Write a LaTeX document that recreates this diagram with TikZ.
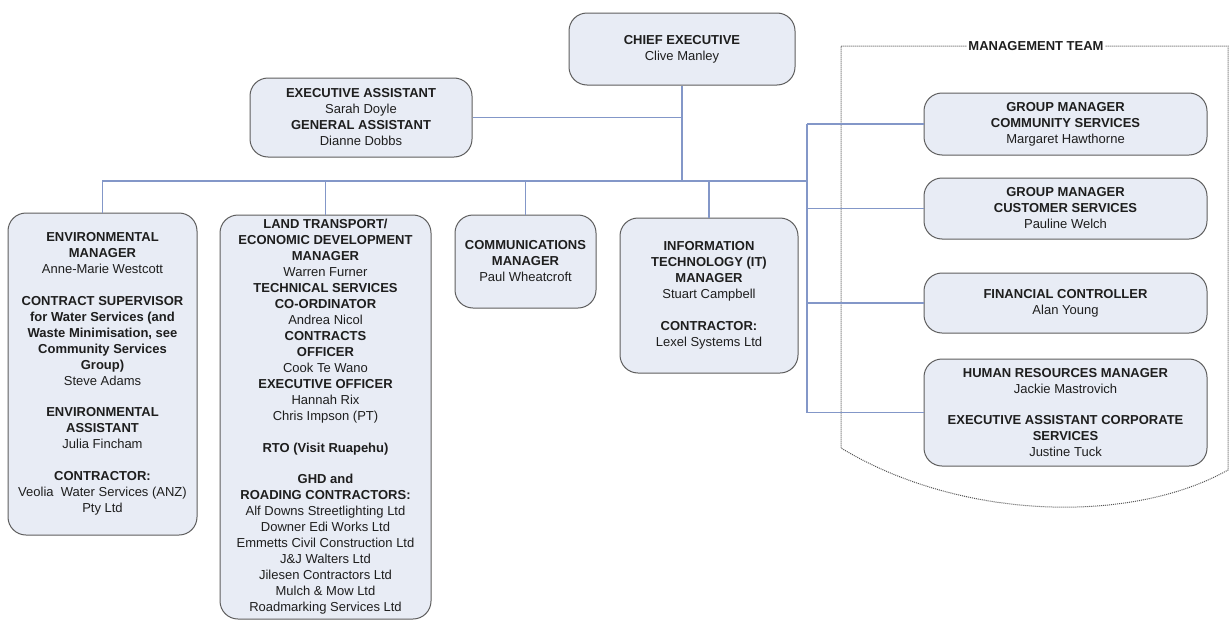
\documentclass[tikz,border=0pt]{standalone}
\usepackage{fontspec}
\setmainfont{Liberation Sans}
\definecolor{boxfill}{HTML}{E8ECF5}
\definecolor{boxline}{HTML}{5E5E5E}
\definecolor{connline}{HTML}{8397C8}
\definecolor{txt}{HTML}{1E1E1E}
\definecolor{dotline}{HTML}{555555}
\begin{document}
\begin{tikzpicture}[x=1pt,y=-1pt,
  orgbox/.style={draw=boxline, line width=1pt, fill=boxfill, rounded corners=18pt,
    inner sep=0pt, align=center, text=txt, font=\fontsize{13}{16}\selectfont},
  conn/.style={draw=connline, line width=1.4pt},
  mgmt/.style={draw=dotline, line width=1pt, densely dotted}]
\useasboundingbox (0,0) rectangle (1231,621);
\fill[white] (0,0) rectangle (1231,621);

% management team frame
\node[text=txt, font=\bfseries\fontsize{13}{16}\selectfont, inner sep=2pt] (mteam) at (1036,46) {MANAGEMENT TEAM};
\coordinate (mtl) at (841,46);
\coordinate (mtr) at (1228,46);
\coordinate (mbl) at (841,448);
\coordinate (mbr) at (1228,470);
\draw[mgmt] (mteam.west) -- (mtl) -- (mbl) .. controls (960,520) and (1130,525) .. (mbr) -- (mtr) -- (mteam.east);

% boxes
\node[orgbox, minimum width=226pt, minimum height=72pt] (chief) at (682,49)
  {\textbf{CHIEF EXECUTIVE}\\Clive Manley};
\node[orgbox, minimum width=222pt, minimum height=79pt] (exec) at (361,117.5)
  {\textbf{EXECUTIVE ASSISTANT}\\Sarah Doyle\\\textbf{GENERAL ASSISTANT}\\Dianne Dobbs};
\node[orgbox, minimum width=189pt, minimum height=322pt] (env) at (102.5,374)
  {\textbf{ENVIRONMENTAL}\\\textbf{MANAGER}\\Anne-Marie Westcott\\[15.5pt]
   \textbf{CONTRACT SUPERVISOR}\\\textbf{for Water Services (and}\\\textbf{Waste Minimisation, see}\\\textbf{Community Services}\\\textbf{Group)}\\Steve Adams\\[15.5pt]
   \textbf{ENVIRONMENTAL}\\\textbf{ASSISTANT}\\Julia Fincham\\[15.5pt]
   \textbf{CONTRACTOR:}\\Veolia\ \ Water Services (ANZ)\\Pty Ltd};
\node[orgbox, minimum width=211pt, minimum height=404pt] (lt) at (325.5,417)
  {\textbf{LAND TRANSPORT/}\\\textbf{ECONOMIC DEVELOPMENT}\\\textbf{MANAGER}\\Warren Furner\\
   \textbf{TECHNICAL SERVICES}\\\textbf{CO-ORDINATOR}\\Andrea Nicol\\
   \textbf{CONTRACTS}\\\textbf{OFFICER}\\Cook Te Wano\\
   \textbf{EXECUTIVE OFFICER}\\Hannah Rix\\Chris Impson (PT)\\[15.5pt]
   \textbf{RTO (Visit Ruapehu)}\\[15.5pt]
   \textbf{GHD and}\\\textbf{ROADING CONTRACTORS:}\\Alf Downs Streetlighting Ltd\\Downer Edi Works Ltd\\Emmetts Civil Construction Ltd\\J\&J Walters Ltd\\Jilesen Contractors Ltd\\Mulch \& Mow Ltd\\Roadmarking Services Ltd};
\node[orgbox, minimum width=141pt, minimum height=93pt] (comms) at (525.5,261.5)
  {\textbf{COMMUNICATIONS}\\\textbf{MANAGER}\\Paul Wheatcroft};
\node[orgbox, minimum width=178pt, minimum height=155pt] (it) at (709,295.5)
  {\textbf{INFORMATION}\\\textbf{TECHNOLOGY (IT)}\\\textbf{MANAGER}\\Stuart Campbell\\[15.5pt]
   \textbf{CONTRACTOR:}\\Lexel Systems Ltd};
\node[orgbox, minimum width=283pt, minimum height=62pt] (comm) at (1065.5,124)
  {\textbf{GROUP MANAGER}\\\textbf{COMMUNITY SERVICES}\\Margaret Hawthorne};
\node[orgbox, minimum width=283pt, minimum height=61pt] (cust) at (1065.5,208.5)
  {\textbf{GROUP MANAGER}\\\textbf{CUSTOMER SERVICES}\\Pauline Welch};
\node[orgbox, minimum width=283pt, minimum height=60pt] (fin) at (1065.5,303)
  {\textbf{FINANCIAL CONTROLLER}\\Alan Young};
\node[orgbox, minimum width=283pt, minimum height=107pt] (hr) at (1065.5,412.5)
  {\textbf{HUMAN RESOURCES MANAGER}\\Jackie Mastrovich\\[15.5pt]
   \textbf{EXECUTIVE ASSISTANT CORPORATE}\\\textbf{SERVICES}\\Justine Tuck};

% connectors
\coordinate (busL) at (102.5,181);
\coordinate (busR) at (807,181);
\draw[conn] (chief.south) -- (chief.south |- busL);
\draw[conn] (exec.east) -- (exec.east -| chief.south);
\draw[conn] (env.north) -- (env.north |- busL) -- (busR);
\draw[conn] (lt.north) -- (lt.north |- busL);
\draw[conn] (comms.north) -- (comms.north |- busL);
\draw[conn] (it.north) -- (it.north |- busL);
\draw[conn] (comm.west -| busR) -- (hr.west -| busR);
\draw[conn] (comm.west) -- (comm.west -| busR);
\draw[conn] (cust.west) -- (cust.west -| busR);
\draw[conn] (fin.west) -- (fin.west -| busR);
\draw[conn] (hr.west) -- (hr.west -| busR);
\end{tikzpicture}
\end{document}
